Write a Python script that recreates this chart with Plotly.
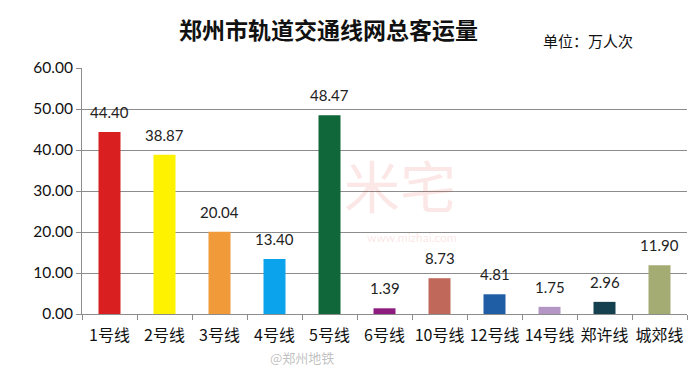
import plotly.graph_objects as go

lines = ["1号线", "2号线", "3号线", "4号线", "5号线", "6号线", "10号线", "12号线", "14号线", "郑许线", "城郊线"]
ridership = [44.40, 38.87, 20.04, 13.40, 48.47, 1.39, 8.73, 4.81, 1.75, 2.96, 11.90]
colors = ["#D91F1F", "#FFF200", "#F09A3A", "#0BA3EC", "#10683A", "#8E1C7E",
          "#C0695A", "#1F5EA5", "#B396C4", "#15404F", "#A4AC74"]
y_ticks = [0, 10, 20, 30, 40, 50, 60]

fig = go.Figure()
fig.add_trace(go.Bar(
    x=lines, y=ridership,
    marker=dict(color=colors, line=dict(width=0)),
    width=0.4,
    cliponaxis=False,
))

W, H = 699, 370
l, r, t, b = 82, 12, 68, 56
pw, ph = W - l - r, H - t - b


def px_ann(text, px, py, font):
    return dict(text=text, x=(px - l) / pw, y=(H - b - py) / ph, xref="paper", yref="paper",
                xanchor="center", yanchor="middle", showarrow=False, font=font)


annotations = [
    px_ann("<b>郑州市轨道交通线网总客运量</b>", 328, 29,
           dict(family="Noto Sans CJK SC, sans-serif", size=23, color="#111111")),
    px_ann("单位：万人次", 588, 40,
           dict(family="Noto Sans CJK SC, sans-serif", size=15, color="#111111")),
    px_ann("米宅", 400, 183,
           dict(family="Noto Sans CJK SC, sans-serif", size=56, color="rgba(230,60,60,0.12)")),
    px_ann("www.mizhai.com", 412, 237,
           dict(family="Lato, sans-serif", size=12, color="rgba(230,60,60,0.15)")),
    px_ann("@郑州地铁", 302, 357,
           dict(family="Noto Sans CJK SC, sans-serif", size=13, color="rgba(150,150,150,0.6)")),
]
for cat, v in zip(lines, ridership):
    annotations.append(dict(
        text=f"{v:.2f}", x=cat, y=v, xref="x", yref="y",
        xanchor="center", yanchor="bottom", yshift=9, showarrow=False,
        font=dict(family="Lato, Open Sans, sans-serif", size=15, color="#222222"),
    ))

fig.update_layout(
    width=W, height=H,
    margin=dict(l=l, r=r, t=t, b=b),
    paper_bgcolor="white", plot_bgcolor="white",
    showlegend=False,
    bargap=0.6,
    xaxis=dict(
        type="category",
        showline=True, linecolor="#8C8C8C", linewidth=1,
        ticks="outside", tickson="boundaries", ticklen=5, tickcolor="#8C8C8C",
        tickangle=0, ticklabelstandoff=7,
        tickfont=dict(family="Noto Sans CJK SC, sans-serif", size=16, color="#111111"),
        showgrid=False,
    ),
    yaxis=dict(
        range=[0, 60], tickvals=y_ticks, tickformat=".2f",
        showline=True, linecolor="#8C8C8C", linewidth=1,
        ticks="outside", ticklen=5, tickcolor="#8C8C8C",
        showgrid=True, gridcolor="#8C8C8C", gridwidth=1,
        zeroline=False,
        tickfont=dict(family="Lato, Open Sans, sans-serif", size=15.5, color="#111111"),
    ),
    annotations=annotations,
)

fig.write_html("out.html")
